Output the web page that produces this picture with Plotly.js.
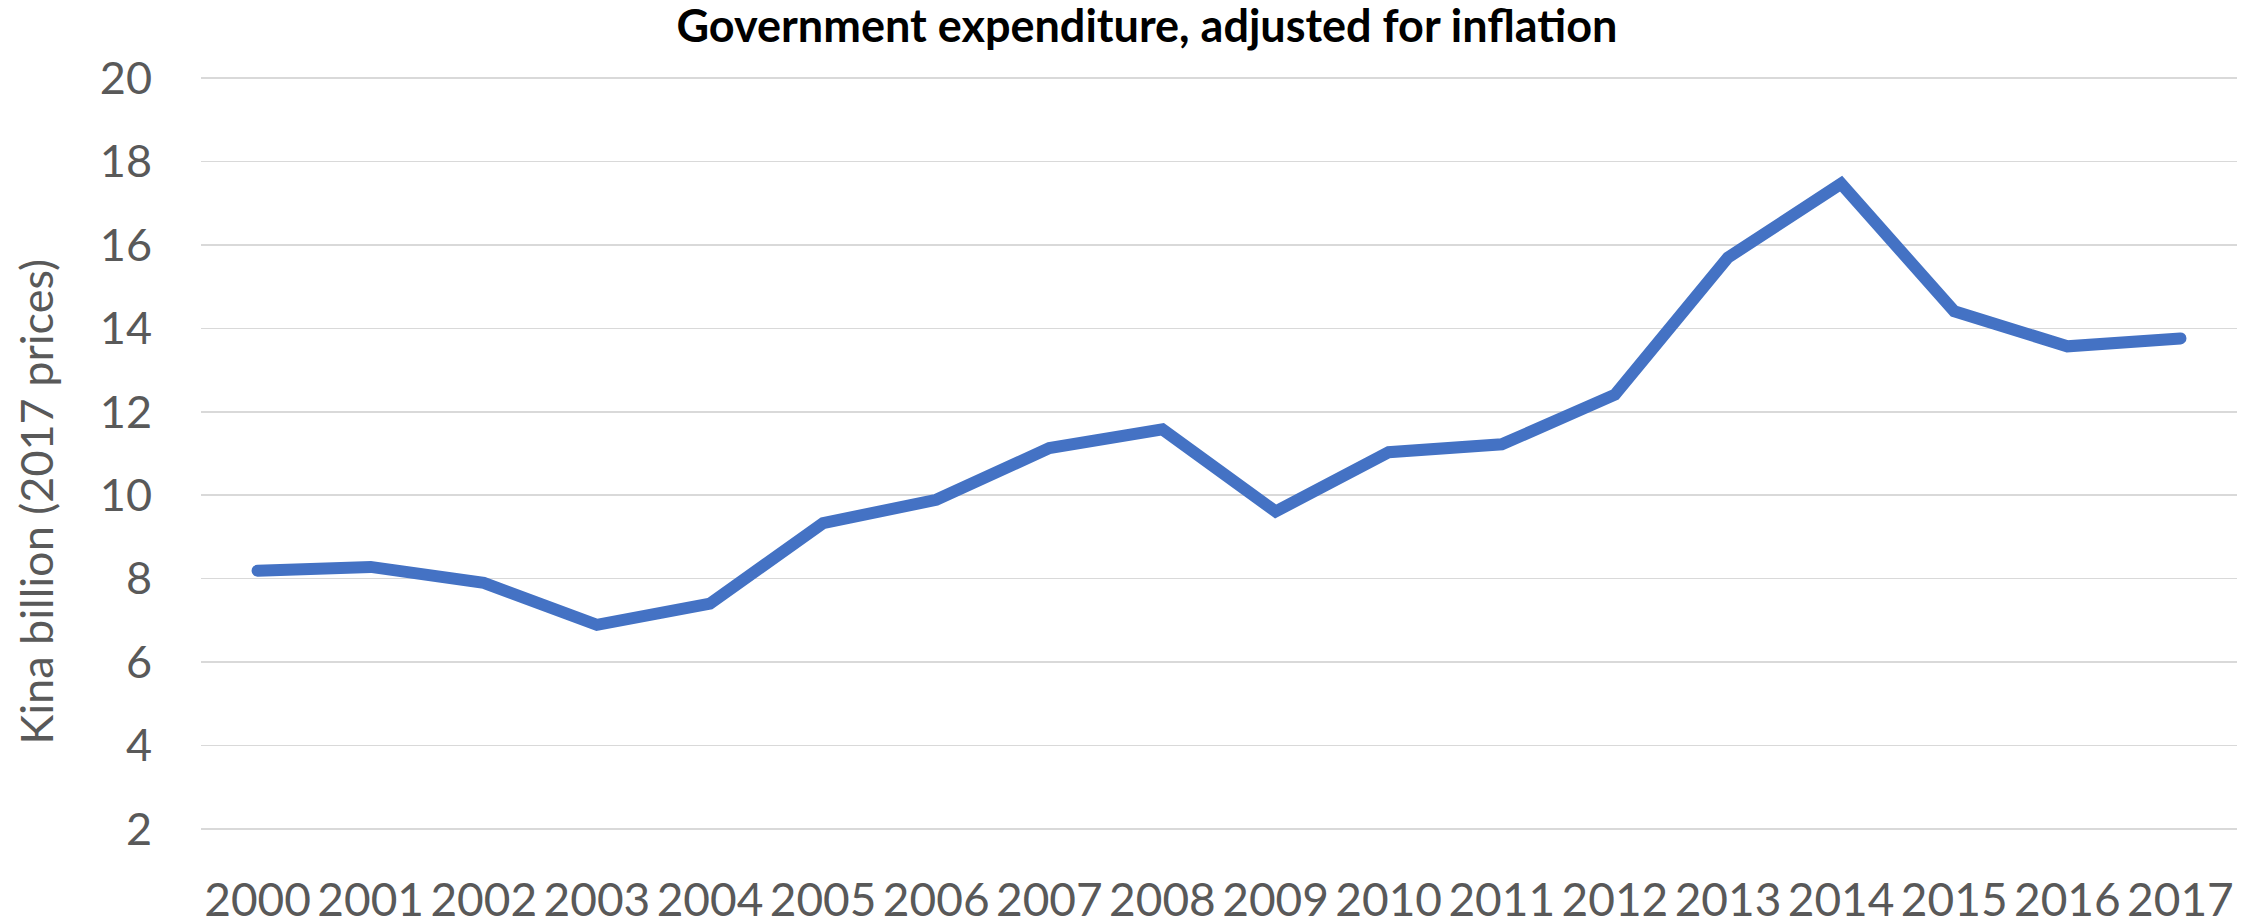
<!DOCTYPE html>
<html>
<head>
<meta charset="utf-8">
<script src="https://cdn.plot.ly/plotly-3.0.1.min.js"></script>
<style>
  html, body { margin: 0; padding: 0; background: #ffffff; }
  #chart { width: 2260px; height: 920px; }
  .scatterlayer path.js-line { stroke-linecap: round; }
</style>
</head>
<body>
<div id="chart"></div>
<script>
const years = ["2000","2001","2002","2003","2004","2005","2006","2007","2008","2009",
               "2010","2011","2012","2013","2014","2015","2016","2017"];
const expenditure = [8.19, 8.28, 7.90, 6.89, 7.40, 9.33, 9.89, 11.13, 11.58, 9.61,
                     11.03, 11.22, 12.41, 15.70, 17.47, 14.41, 13.57, 13.76];
const yTicks = [2, 4, 6, 8, 10, 12, 14, 16, 18, 20];
const chartTitle = "Government expenditure, adjusted for inflation";
const yTitle = "Kina billion (2017 prices)";

const FONT = "Lato, 'Open Sans', sans-serif";

const trace = {
  x: years,
  y: expenditure,
  type: "scatter",
  mode: "lines",
  line: { color: "#4472C4", width: 12 },
  hoverinfo: "x+y",
  showlegend: false
};

const layout = {
  width: 2260,
  height: 920,
  paper_bgcolor: "#ffffff",
  plot_bgcolor: "#ffffff",
  margin: { l: 201, r: 23, t: 74, b: 87, pad: 0 },
  font: { family: FONT, color: "#595959" },
  title: {
    text: "<b>" + chartTitle + "</b>",
    font: { family: FONT, size: 45, color: "#000000" },
    xref: "container", x: 0.5075, xanchor: "center",
    yref: "container", y: 0.972, yanchor: "middle"
  },
  xaxis: {
    type: "category",
    tickvals: years,
    ticktext: years,
    range: [-0.5, 17.5],
    showgrid: false,
    zeroline: false,
    showline: false,
    ticks: "",
    tickfont: { family: FONT, size: 46, color: "#595959" },
    ticklabelstandoff: 36,
    fixedrange: true
  },
  yaxis: {
    range: [1.9, 20.1],
    tickvals: yTicks,
    ticktext: yTicks.map(String),
    showgrid: true,
    gridcolor: "#d9d9d9",
    gridwidth: 1.6,
    zeroline: false,
    showline: false,
    ticks: "",
    tickfont: { family: FONT, size: 45, color: "#595959" },
    ticklabelstandoff: 48,
    fixedrange: true
  },
  annotations: [{
    text: yTitle,
    textangle: -90,
    xref: "paper", x: 0, xanchor: "center", xshift: -165,
    yref: "paper", y: 0.4354, yanchor: "middle",
    showarrow: false,
    font: { family: FONT, size: 45, color: "#595959" }
  }]
};

Plotly.newPlot("chart", [trace], layout, { displayModeBar: false, staticPlot: true });
</script>
</body>
</html>
